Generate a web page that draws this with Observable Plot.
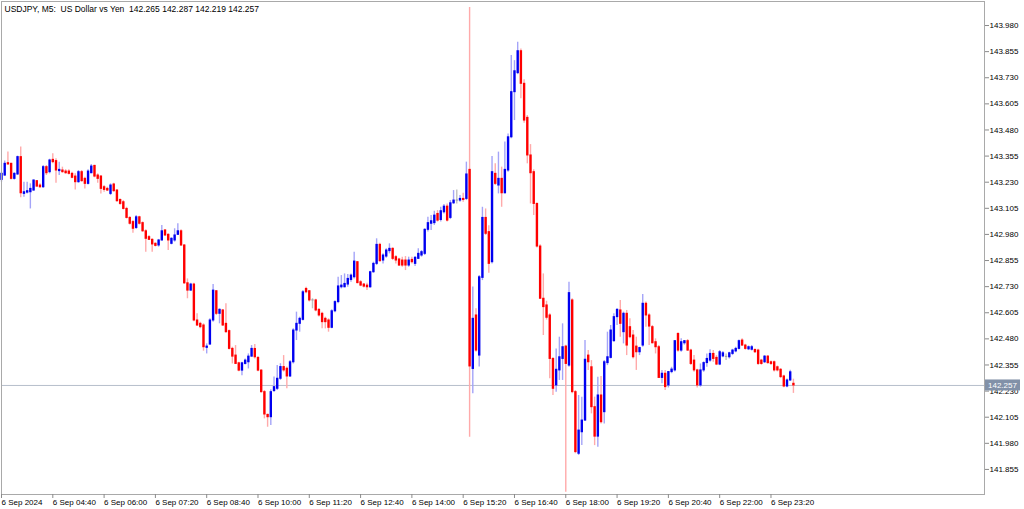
<!DOCTYPE html>
<html>
<head>
<meta charset="utf-8">
<script src="https://cdn.jsdelivr.net/npm/d3@7"></script>
<script src="https://cdn.jsdelivr.net/npm/@observablehq/plot@0.6"></script>
<style>
html, body { margin: 0; padding: 0; background: #fff; }
#chart { width: 1024px; height: 509px; overflow: hidden; }
</style>
</head>
<body>
<div id="chart"></div>
<script>
const symbolTitle = "USDJPY, M5:  US Dollar vs Yen";

const open = [
143.241,143.262,143.321,143.318,143.246,143.267,143.350,143.174,143.180,143.182,
143.190,143.235,143.214,143.206,143.302,143.278,143.337,143.331,143.283,143.286,
143.281,143.281,143.270,143.257,143.230,143.278,143.246,143.222,143.273,143.308,
143.262,143.257,143.206,143.198,143.174,143.219,143.190,143.145,143.134,143.102,
143.059,143.039,143.011,143.062,143.034,142.995,142.967,142.954,142.935,142.927,
142.951,142.999,142.978,142.935,142.951,142.978,142.995,142.927,142.746,142.711,
142.740,142.568,142.552,142.544,142.437,142.453,142.568,142.708,142.600,142.616,
142.552,142.517,142.432,142.400,142.363,142.328,142.360,142.368,142.395,142.432,
142.389,142.328,142.225,142.116,142.105,142.230,142.241,142.289,142.345,142.337,
142.300,142.368,142.520,142.552,142.571,142.719,142.708,142.664,142.664,142.619,
142.600,142.576,142.568,142.533,142.612,142.656,142.727,142.727,142.740,142.762,
142.775,142.847,142.751,142.740,142.735,142.727,142.799,142.839,142.930,142.855,
142.874,142.900,142.911,142.871,142.860,142.855,142.855,142.831,142.858,142.839,
142.863,142.879,142.887,143.002,143.031,143.034,143.078,143.049,143.086,143.113,
143.059,143.129,143.142,143.142,143.150,143.150,143.289,142.336,142.592,142.400,
142.772,143.059,142.991,142.847,143.270,143.214,143.246,143.177,143.286,143.445,
143.661,143.752,143.857,143.701,143.538,143.358,143.278,143.126,142.922,142.672,
142.640,142.592,142.384,142.257,142.329,142.384,142.443,142.352,142.664,142.225,
141.930,142.033,142.089,142.400,142.344,142.153,142.012,142.209,142.129,142.364,
142.389,142.469,142.584,142.616,142.512,142.600,142.536,142.496,142.443,142.416,
142.448,142.648,142.592,142.536,142.464,142.440,142.293,142.313,142.257,142.321,
142.329,142.504,142.424,142.459,142.469,142.424,142.376,142.329,142.257,142.329,
142.364,142.376,142.408,142.389,142.357,142.396,142.394,142.392,142.408,142.420,
142.432,142.472,142.448,142.430,142.428,142.427,142.424,142.376,142.368,142.395,
142.368,142.368,142.344,142.332,142.300,142.252,142.281,142.265
];
const high = [
143.278,143.331,143.374,143.321,143.275,143.355,143.398,143.230,143.230,143.222,
143.241,143.238,143.222,143.310,143.310,143.340,143.366,143.342,143.326,143.302,
143.290,143.289,143.278,143.270,143.286,143.286,143.254,143.289,143.315,143.311,
143.270,143.262,143.214,143.206,143.222,143.225,143.195,143.150,143.142,143.110,
143.065,143.047,143.070,143.067,143.040,143.002,142.975,142.959,142.940,142.956,
143.023,143.004,142.983,142.964,143.007,143.031,143.002,142.932,142.767,142.746,
142.746,142.600,142.560,142.552,142.456,142.576,142.740,142.711,142.624,142.621,
142.648,142.523,142.440,142.448,142.368,142.368,142.384,142.408,142.448,142.453,
142.395,142.333,142.233,142.120,142.236,142.297,142.352,142.361,142.400,142.345,
142.376,142.528,142.608,142.584,142.711,142.727,142.711,142.672,142.670,142.624,
142.608,142.584,142.576,142.620,142.662,142.775,142.783,142.791,142.788,142.791,
142.895,142.850,142.759,142.745,142.746,142.804,142.847,142.959,142.938,142.887,
142.911,142.935,142.916,142.879,142.866,142.871,142.874,142.871,142.871,142.874,
142.911,142.903,143.007,143.062,143.070,143.091,143.094,143.110,143.123,143.126,
143.142,143.190,143.193,143.166,143.177,143.326,144.066,142.728,142.624,142.783,
143.110,143.102,143.022,143.353,143.318,143.374,143.302,143.422,143.461,143.836,
143.812,143.900,143.868,143.720,143.549,143.410,143.290,143.130,142.930,142.791,
142.660,142.600,142.390,142.432,142.488,142.552,142.450,142.751,142.672,142.233,
142.209,142.201,142.472,142.424,142.376,142.201,142.296,142.300,142.376,142.512,
142.544,142.600,142.624,142.664,142.608,142.616,142.576,142.520,142.488,142.440,
142.692,142.656,142.600,142.544,142.480,142.448,142.329,142.329,142.324,142.344,
142.472,142.507,142.480,142.472,142.477,142.430,142.400,142.335,142.360,142.370,
142.408,142.428,142.424,142.400,142.424,142.420,142.408,142.416,142.430,142.440,
142.475,142.480,142.454,142.446,142.448,142.432,142.430,142.382,142.400,142.400,
142.374,142.374,142.350,142.338,142.306,142.288,142.330,142.287
];
const low = [
143.230,143.257,143.311,143.241,143.240,143.262,143.155,143.158,143.174,143.102,
143.187,143.206,143.200,143.200,143.262,143.270,143.318,143.225,143.262,143.273,
143.268,143.265,143.246,143.193,143.225,143.230,143.198,143.217,143.270,143.251,
143.225,143.174,143.182,143.185,143.166,143.182,143.134,143.120,143.097,143.054,
143.025,142.986,143.004,143.025,142.990,142.895,142.951,142.895,142.920,142.919,
142.948,142.970,142.903,142.930,142.943,142.975,142.922,142.740,142.672,142.708,
142.562,142.539,142.528,142.421,142.408,142.448,142.560,142.592,142.552,142.539,
142.507,142.427,142.360,142.357,142.323,142.304,142.355,142.336,142.392,142.384,
142.323,142.220,142.097,142.057,142.065,142.225,142.233,142.281,142.321,142.241,
142.295,142.360,142.472,142.512,142.565,142.696,142.656,142.624,142.610,142.585,
142.528,142.528,142.512,142.528,142.605,142.648,142.719,142.724,142.727,142.751,
142.767,142.743,142.730,142.724,142.711,142.722,142.794,142.831,142.847,142.839,
142.866,142.887,142.855,142.839,142.826,142.823,142.807,142.823,142.839,142.826,
142.860,142.871,142.879,142.991,142.999,143.023,143.039,143.039,143.078,143.039,
143.051,143.123,143.126,143.134,143.134,143.142,142.009,142.217,142.416,142.345,
142.759,142.975,142.794,142.839,143.214,143.174,143.110,143.174,143.278,143.438,
143.525,143.745,143.629,143.512,143.318,143.126,143.070,142.915,142.670,142.496,
142.570,142.289,142.209,142.225,142.281,142.281,141.746,142.344,142.217,141.930,
141.922,141.969,142.085,142.329,142.121,141.969,141.961,142.073,142.073,142.352,
142.384,142.464,142.544,142.488,142.456,142.400,142.480,142.384,142.329,142.400,
142.440,142.536,142.448,142.456,142.408,142.292,142.265,142.233,142.245,142.313,
142.321,142.416,142.416,142.450,142.420,142.352,142.320,142.245,142.249,142.320,
142.344,142.368,142.368,142.352,142.352,142.390,142.376,142.384,142.400,142.414,
142.427,142.443,142.426,142.424,142.422,142.410,142.352,142.354,142.362,142.358,
142.352,142.322,142.322,142.290,142.246,142.246,142.276,142.219
];
const close = [
143.270,143.318,143.315,143.246,143.270,143.350,143.177,143.182,143.187,143.198,
143.238,143.209,143.206,143.302,143.273,143.334,143.326,143.286,143.289,143.278,
143.273,143.270,143.251,143.230,143.278,143.235,143.222,143.281,143.305,143.257,
143.246,143.198,143.193,143.190,143.214,143.187,143.139,143.126,143.102,143.059,
143.031,143.007,143.062,143.031,142.995,142.959,142.954,142.932,142.925,142.951,
142.995,142.975,142.951,142.959,142.975,142.995,142.927,142.746,142.711,142.740,
142.568,142.544,142.536,142.440,142.443,142.568,142.711,142.600,142.619,142.544,
142.512,142.432,142.395,142.360,142.328,142.363,142.376,142.395,142.432,142.392,
142.328,142.225,142.118,142.105,142.225,142.249,142.289,142.345,142.329,142.300,
142.368,142.520,142.552,142.576,142.703,142.703,142.664,142.664,142.616,142.592,
142.560,142.560,142.533,142.612,142.656,142.731,142.735,142.743,142.767,142.783,
142.850,142.747,142.735,142.730,142.727,142.799,142.839,142.930,142.852,142.879,
142.903,142.911,142.863,142.855,142.831,142.831,142.831,142.855,142.847,142.868,
142.887,142.895,143.002,143.034,143.043,143.070,143.046,143.091,143.113,143.046,
143.129,143.142,143.142,143.150,143.145,143.267,142.348,142.576,142.424,142.775,
143.059,142.983,142.839,143.278,143.222,143.246,143.177,143.289,143.445,143.661,
143.761,143.857,143.701,143.525,143.358,143.273,143.126,142.922,142.672,142.632,
142.581,142.384,142.241,142.332,142.392,142.440,142.360,142.699,142.225,141.938,
142.041,142.089,142.380,142.368,142.153,142.012,142.209,142.081,142.368,142.392,
142.520,142.584,142.619,142.552,142.600,142.448,142.488,142.392,142.416,142.436,
142.648,142.592,142.539,142.459,142.440,142.293,142.313,142.249,142.321,142.333,
142.469,142.424,142.464,142.469,142.424,142.360,142.329,142.257,142.329,142.364,
142.384,142.408,142.384,142.357,142.416,142.411,142.394,142.411,142.424,142.432,
142.469,142.448,142.432,142.440,142.440,142.416,142.360,142.360,142.395,142.364,
142.360,142.329,142.329,142.297,142.252,142.281,142.320,142.257
];

const timeTicks = [0, 16, 32, 48, 64, 80, 96, 112, 128, 144, 160, 176, 192, 208, 224, 240];
const timeLabels = ["6 Sep 2024", "6 Sep 04:40", "6 Sep 06:00", "6 Sep 07:20", "6 Sep 08:40",
  "6 Sep 10:00", "6 Sep 11:20", "6 Sep 12:40", "6 Sep 14:00", "6 Sep 15:20", "6 Sep 16:40",
  "6 Sep 18:00", "6 Sep 19:20", "6 Sep 20:40", "6 Sep 22:00", "6 Sep 23:20"];
const priceTicks = [141.855, 141.980, 142.105, 142.230, 142.355, 142.480, 142.605, 142.730,
  142.855, 142.980, 143.105, 143.230, 143.355, 143.480, 143.605, 143.730, 143.855, 143.980];

const bars = open.map((o, i) => ({i, o, h: high[i], l: low[i], c: close[i]}));
const last = bars[bars.length - 1];
const bid = last.c;

const bodyColor = d => d.c > d.o ? "#0000f0" : d.c < d.o ? "#ff0000" : "#9a9a9a";
const wickColor = d => d.c > d.o ? "#a4a4f8" : d.c < d.o ? "#ffaaaa" : "#c0c0c0";

const titleText = `${symbolTitle}  ${last.o.toFixed(3)} ${last.h.toFixed(3)} ${last.l.toFixed(3)} ${last.c.toFixed(3)}`;
const fontStack = "'Liberation Sans', Arial, sans-serif";

const plot = Plot.plot({
  width: 1024,
  height: 509,
  marginLeft: 1,
  marginRight: 40,
  marginTop: 1,
  marginBottom: 15,
  style: {fontFamily: fontStack, fontSize: "8px", color: "#000", background: "#fff"},
  x: {type: "linear", domain: [0, 306.6]},
  y: {domain: [141.735, 144.095]},
  marks: [
    Plot.ruleY([bid], {stroke: "#b6bfcb", strokeWidth: 1}),
    Plot.ruleX(bars, {x: "i", y1: "h", y2: "l", stroke: wickColor, strokeWidth: 1.4}),
    Plot.ruleX(bars, {x: "i", y1: d => Math.max(d.o, d.c), y2: d => Math.min(d.o, d.c),
      stroke: bodyColor, strokeWidth: 2.4, insetTop: -0.5, insetBottom: -0.5}),
    Plot.frame({stroke: "#a9a9a9"}),
    Plot.axisX({ticks: timeTicks, tickFormat: d => timeLabels[timeTicks.indexOf(d)],
      tickSize: 4, tickPadding: 1, textAnchor: "start", stroke: "#8a8a8a", fill: "#000", label: null}),
    Plot.axisY({anchor: "right", ticks: priceTicks, tickFormat: d => d.toFixed(3),
      tickSize: 4, tickPadding: 1, stroke: "#8a8a8a", fill: "#000", label: null}),
    Plot.text([titleText], {frameAnchor: "top-left", dx: 3, dy: 4, lineAnchor: "top",
      textAnchor: "start", fill: "#000", fontSize: 8.5})
  ]
});

document.getElementById("chart").appendChild(plot);

// current bid label on the price axis
const svg = d3.select(plot);
const yPix = plot.scale("y").apply(bid);
const xRight = plot.scale("x").range[1];
const g = svg.append("g");
g.append("rect")
  .attr("x", xRight + 1).attr("y", yPix - 5.5)
  .attr("width", 35).attr("height", 11)
  .attr("fill", "#8291a8");
g.append("text")
  .attr("x", xRight + 4).attr("y", yPix + 3)
  .attr("text-anchor", "start")
  .attr("fill", "#fff")
  .attr("font-family", fontStack)
  .attr("font-size", 8)
  .text(bid.toFixed(3));
</script>
</body>
</html>
